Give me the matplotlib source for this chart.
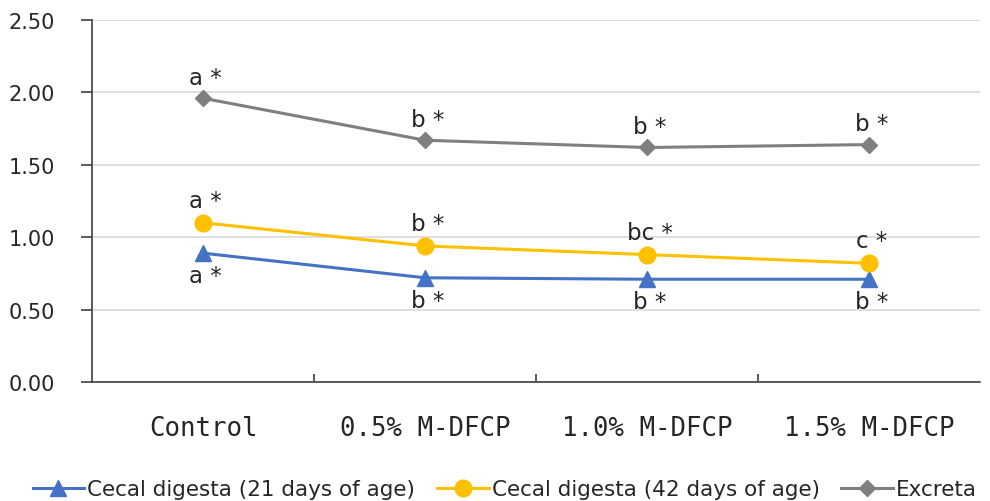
import matplotlib
matplotlib.use("Agg")
from matplotlib import pyplot as plt
import numpy as np

categories = ["Control", "0.5% M-DFCP", "1.0% M-DFCP", "1.5% M-DFCP"]
cecal_21 = [0.89, 0.72, 0.71, 0.71]
cecal_42 = [1.10, 0.94, 0.88, 0.82]
excreta = [1.96, 1.67, 1.62, 1.64]
labels_21 = ["a *", "b *", "b *", "b *"]
labels_42 = ["a *", "b *", "bc *", "c *"]
labels_ex = ["a *", "b *", "b *", "b *"]
yticks = [0.0, 0.5, 1.0, 1.5, 2.0, 2.5]

plt.rcParams["font.family"] = ["DejaVu Sans"]
text_color = "#262626"

fig = plt.figure(figsize=(9.9, 5.02), dpi=100)
ax = fig.add_axes([0.093, 0.237, 0.897, 0.721])

x = np.arange(len(categories))
ax.plot(x, cecal_21, color="#4472C4", lw=2.2, marker="^", ms=11,
        label="Cecal digesta (21 days of age)", zorder=3)
ax.plot(x, cecal_42, color="#FFC000", lw=2.2, marker="o", ms=12,
        label="Cecal digesta (42 days of age)", zorder=3)
ax.plot(x, excreta, color="#7F7F7F", lw=2.2, marker="D", ms=8,
        label="Excreta", zorder=3)

# significance letters: above for 42 d and excreta, below for 21 d
for xi, v, t in zip(x, excreta, labels_ex):
    ax.annotate(t, (xi, v), xytext=(2, 7), textcoords="offset points",
                ha="center", va="bottom", fontsize=16.5, color=text_color)
for xi, v, t in zip(x, cecal_42, labels_42):
    ax.annotate(t, (xi, v), xytext=(2, 8), textcoords="offset points",
                ha="center", va="bottom", fontsize=16.5, color=text_color)
for xi, v, t in zip(x, cecal_21, labels_21):
    ax.annotate(t, (xi, v), xytext=(2, -8), textcoords="offset points",
                ha="center", va="top", fontsize=16.5, color=text_color)

ax.set_xlim(-0.5, len(categories) - 0.5)
ax.set_ylim(0, 2.5)
ax.set_yticks(yticks)
ax.set_yticklabels(["%.2f" % v for v in yticks], fontsize=15, color=text_color)
ax.set_xticks(x)
ax.set_xticklabels(categories, fontsize=18.5, color=text_color,
                   family="DejaVu Sans Mono")
ax.set_xticks(np.arange(0.5, len(categories) - 1, 1), minor=True)
ax.tick_params(axis="x", which="major", length=0, pad=24)
ax.tick_params(axis="x", which="minor", length=6, direction="in",
               color="#404040", width=1.2)
ax.tick_params(axis="y", length=8, color="#404040", width=1.2, pad=19)

ax.grid(axis="y", color="#D9D9D9", lw=1.2)
ax.set_axisbelow(True)
for s in ["top", "right"]:
    ax.spines[s].set_visible(False)
for s in ["left", "bottom"]:
    ax.spines[s].set_color("#404040")
    ax.spines[s].set_linewidth(1.2)

fig.legend(loc="lower center", bbox_to_anchor=(0.51, -0.035), ncol=3,
           frameon=False, fontsize=15.5, handlelength=2.4, columnspacing=1.0,
           handletextpad=0.15, labelcolor=text_color)

plt.savefig("out.png", dpi=100)
